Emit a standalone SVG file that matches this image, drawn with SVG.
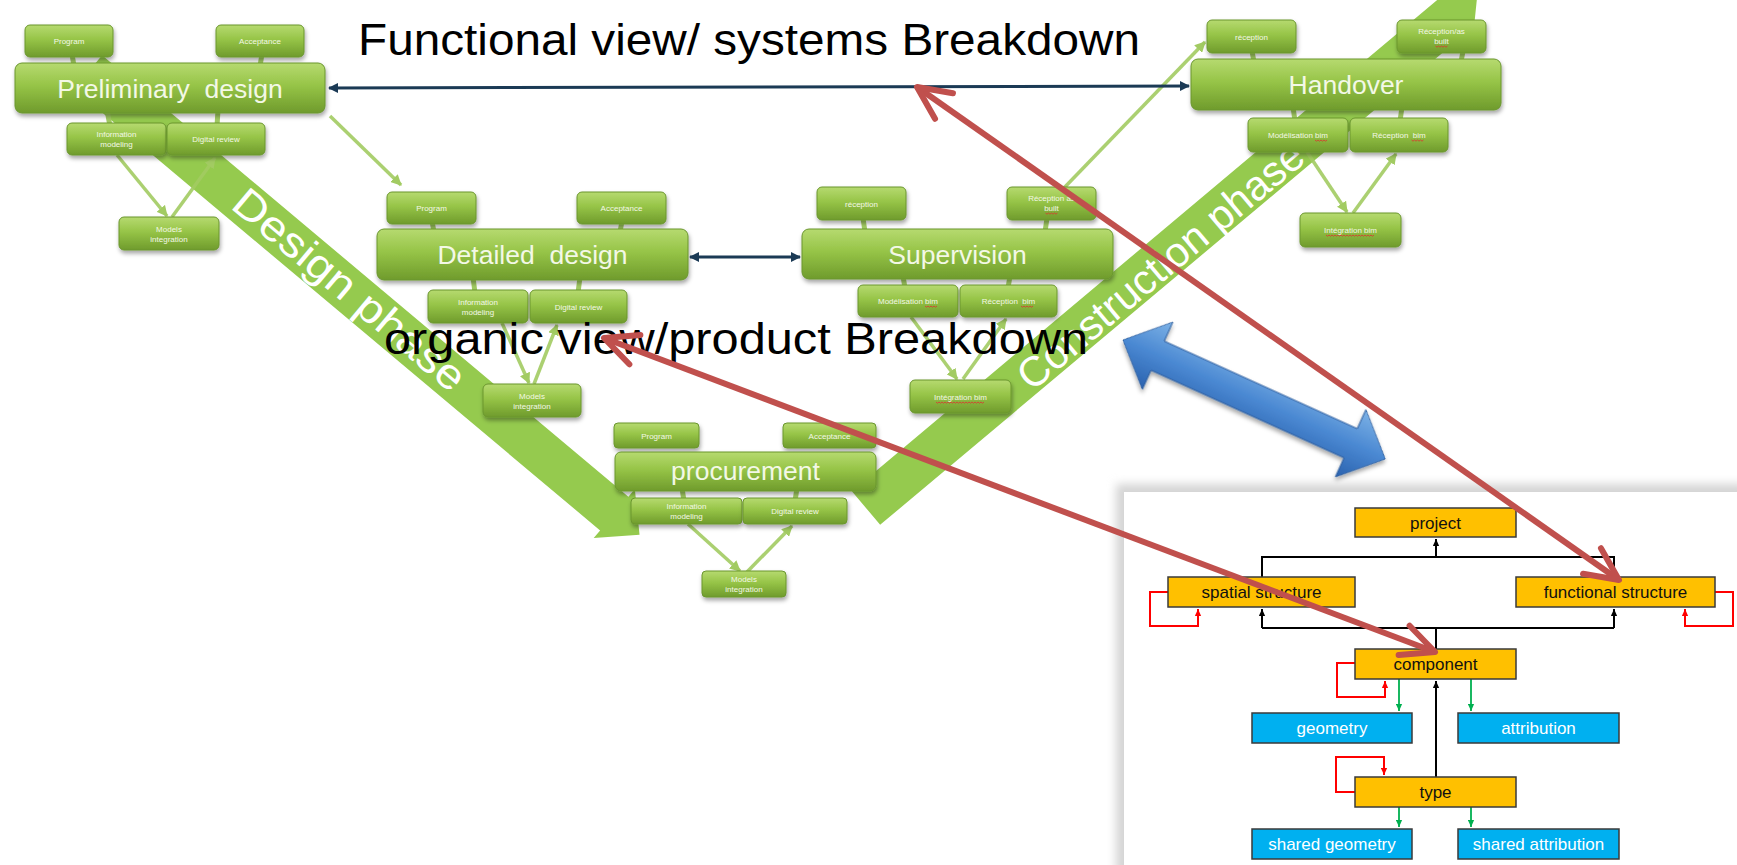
<svg xmlns="http://www.w3.org/2000/svg" width="1737" height="865" viewBox="0 0 1737 865">
<defs>
<style>
.gb{fill:url(#gGreen);stroke:#6a962f;stroke-width:1;filter:url(#sh)}
.gl{font-family:"Liberation Sans",Arial,sans-serif;fill:#F3F8E6;text-anchor:middle}
.lg{font-size:26.5px}
.sm{font-size:8px}
.thin{stroke:#A2CB62;stroke-width:3.5;fill:none;stroke-opacity:0.9}
.stub{stroke:#A2CB62;stroke-width:5;fill:none}
.band{fill:#8CC63F;fill-opacity:0.92}
.bandt{font-family:"Liberation Sans",Arial,sans-serif;fill:#FFFFFF;font-size:42px;text-anchor:middle}
.bigt{font-family:"Liberation Sans",Arial,sans-serif;fill:#000;font-size:44px}
.navy{stroke:#1B3A55;stroke-width:3;fill:none}
.ob{fill:#FFC000;stroke:#3a3a3a;stroke-width:1.5}
.bb{fill:#00B0F0;stroke:#3a3a3a;stroke-width:1.5}
.pt{font-family:"Liberation Sans",Arial,sans-serif;font-size:17px;text-anchor:middle;fill:#111}
.ptw{font-family:"Liberation Sans",Arial,sans-serif;font-size:17px;text-anchor:middle;fill:#fff}
.blk{stroke:#000;stroke-width:2;fill:none}
.grn{stroke:#00B050;stroke-width:1.8;fill:none}
.red{stroke:#FF0000;stroke-width:2;fill:none}
.bigred{stroke:#C0504D;stroke-width:6;fill:none}
.wv{stroke:#E03030;stroke-width:0.8;fill:none}
</style>
<linearGradient id="gGreen" x1="0" y1="0" x2="0" y2="1">
<stop offset="0" stop-color="#B6DA70"/>
<stop offset="0.45" stop-color="#96C447"/>
<stop offset="1" stop-color="#6F9B2C"/>
</linearGradient>
<linearGradient id="gBlue" gradientUnits="userSpaceOnUse" x1="0" y1="-37" x2="0" y2="37">
<stop offset="0" stop-color="#7DB2E6"/>
<stop offset="0.5" stop-color="#4A88D2"/>
<stop offset="1" stop-color="#2A62AE"/>
</linearGradient>
<filter id="sh" x="-10%" y="-20%" width="120%" height="160%">
<feDropShadow dx="1" dy="3" stdDeviation="2" flood-color="#000" flood-opacity="0.35"/>
</filter>
<filter id="blur" x="-5%" y="-5%" width="110%" height="110%">
<feGaussianBlur stdDeviation="5"/>
</filter>
<marker id="mNavy" viewBox="0 0 10 10" refX="9" refY="5" markerWidth="12" markerHeight="10" markerUnits="userSpaceOnUse" orient="auto-start-reverse">
<path d="M0,0 L10,5 L0,10 z" fill="#1B3A55"/>
</marker>
<marker id="mGreen" viewBox="0 0 10 10" refX="9" refY="5" markerWidth="11" markerHeight="11" markerUnits="userSpaceOnUse" orient="auto">
<path d="M0,0 L10,5 L0,10 z" fill="#A2CB62"/>
</marker>
<marker id="mBlk" viewBox="0 0 10 10" refX="10" refY="5" markerWidth="7" markerHeight="7" markerUnits="userSpaceOnUse" orient="auto">
<path d="M0,0.5 L10,5 L0,9.5 z" fill="#000"/>
</marker>
<marker id="mGrn" viewBox="0 0 10 10" refX="10" refY="5" markerWidth="7" markerHeight="7" markerUnits="userSpaceOnUse" orient="auto">
<path d="M0,0.5 L10,5 L0,9.5 z" fill="#00B050"/>
</marker>
<marker id="mRd" viewBox="0 0 10 10" refX="10" refY="5" markerWidth="7" markerHeight="7" markerUnits="userSpaceOnUse" orient="auto">
<path d="M0,0.5 L10,5 L0,9.5 z" fill="#FF0000"/>
</marker>
<marker id="mRed" viewBox="-7 -4 8 8" refX="0" refY="0" markerWidth="8" markerHeight="8" markerUnits="strokeWidth" orient="auto-start-reverse">
<path d="M-5.5,-2.6 L0,0 L-5.5,2.6" fill="none" stroke="#C0504D" stroke-width="1" stroke-linejoin="round" stroke-linecap="round"/>
</marker>
<path id="wv12" d="M0,0 l1.5,1.2 l1.5,-1.2 l1.5,1.2 l1.5,-1.2 l1.5,1.2 l1.5,-1.2 l1.5,1.2 l1.5,-1.2"/>
<path id="wv48" d="M0,0 l1.5,1.2 l1.5,-1.2 l1.5,1.2 l1.5,-1.2 l1.5,1.2 l1.5,-1.2 l1.5,1.2 l1.5,-1.2 l1.5,1.2 l1.5,-1.2 l1.5,1.2 l1.5,-1.2 l1.5,1.2 l1.5,-1.2 l1.5,1.2 l1.5,-1.2 l1.5,1.2 l1.5,-1.2 l1.5,1.2 l1.5,-1.2 l1.5,1.2 l1.5,-1.2 l1.5,1.2 l1.5,-1.2 l1.5,1.2 l1.5,-1.2 l1.5,1.2 l1.5,-1.2 l1.5,1.2 l1.5,-1.2 l1.5,1.2 l1.5,-1.2"/>
</defs>

<rect x="0" y="0" width="1737" height="865" fill="#FFFFFF"/>

<!-- phase bands -->
<g id="design-phase">
<polygon class="band" transform="translate(88,72) rotate(40)" points="0,-22 687,-22 687,-32 720,0 687,32 687,22 0,22"/>
<text class="bandt" transform="translate(350,289) rotate(40)" y="15" textLength="290" lengthAdjust="spacingAndGlyphs">Design phase</text>
</g>
<g id="construction-phase">
<polygon class="band" transform="translate(866,508) rotate(-40)" points="0,-22 765,-22 765,-32 798,0 765,32 765,22 0,22"/>
<text class="bandt" transform="translate(1160,265) rotate(-40)" y="15" textLength="360" lengthAdjust="spacingAndGlyphs">Construction phase</text>
</g>

<!-- right panel background -->
<g id="panel">
<rect x="1116" y="484" width="630" height="390" fill="#d4d4d4" filter="url(#blur)"/>
<rect x="1124" y="492" width="613" height="373" fill="#FFFFFF"/>
</g>

<!-- green connectors -->
<g id="connectors-green">
<line class="stub" x1="72" y1="54" x2="74" y2="66"/>
<line class="stub" x1="262" y1="54" x2="260" y2="66"/>
<line class="stub" x1="107" y1="110" x2="110" y2="126"/>
<line class="stub" x1="218" y1="110" x2="217" y2="126"/>
<line class="thin" x1="117" y1="155" x2="167" y2="216" marker-end="url(#mGreen)"/>
<line class="thin" x1="172" y1="217" x2="215" y2="158" marker-end="url(#mGreen)"/>
<line class="thin" x1="330" y1="116" x2="401" y2="185" marker-end="url(#mGreen)"/>

<line class="stub" x1="432" y1="221" x2="434" y2="232"/>
<line class="stub" x1="622" y1="221" x2="620" y2="232"/>
<line class="stub" x1="473" y1="277" x2="475" y2="293"/>
<line class="stub" x1="580" y1="277" x2="578" y2="293"/>
<line class="thin" x1="502" y1="323" x2="529" y2="383" marker-end="url(#mGreen)"/>
<line class="thin" x1="534" y1="384" x2="557" y2="325" marker-end="url(#mGreen)"/>

<line class="stub" x1="682" y1="488" x2="684" y2="501"/>
<line class="stub" x1="797" y1="488" x2="795" y2="501"/>
<line class="thin" x1="688" y1="524" x2="740" y2="571" marker-end="url(#mGreen)"/>
<line class="thin" x1="747" y1="572" x2="792" y2="526" marker-end="url(#mGreen)"/>

<line class="stub" x1="863" y1="218" x2="865" y2="232"/>
<line class="stub" x1="1047" y1="218" x2="1045" y2="232"/>
<line class="stub" x1="903" y1="276" x2="905" y2="288"/>
<line class="stub" x1="1010" y1="276" x2="1008" y2="288"/>
<line class="thin" x1="911" y1="317" x2="957" y2="379" marker-end="url(#mGreen)"/>
<line class="thin" x1="963" y1="379" x2="1006" y2="319" marker-end="url(#mGreen)"/>
<line class="thin" x1="1062" y1="190" x2="1205" y2="42" marker-end="url(#mGreen)"/>

<line class="stub" x1="1252" y1="51" x2="1254" y2="62"/>
<line class="stub" x1="1463" y1="51" x2="1461" y2="62"/>
<line class="stub" x1="1293" y1="107" x2="1295" y2="121"/>
<line class="stub" x1="1402" y1="107" x2="1400" y2="121"/>
<line class="thin" x1="1307" y1="152" x2="1347" y2="212" marker-end="url(#mGreen)"/>
<line class="thin" x1="1353" y1="213" x2="1396" y2="154" marker-end="url(#mGreen)"/>
</g>

<!-- Preliminary design group -->
<g id="prelim-program"><rect class="gb" x="25" y="25" width="88" height="32" rx="5"/><text class="gl sm" x="69" y="44">Program</text></g>
<g id="prelim-acceptance"><rect class="gb" x="216" y="25" width="88" height="32" rx="5"/><text class="gl sm" x="260" y="44">Acceptance</text></g>
<g id="prelim-design"><rect class="gb" x="15" y="63" width="310" height="50" rx="7"/><text class="gl lg" x="170" y="97.5">Preliminary&#160; design</text></g>
<g id="prelim-info"><rect class="gb" x="67" y="123" width="99" height="32" rx="5"/><text class="gl sm" x="116.5" y="137">Information</text><text class="gl sm" x="116.5" y="147">modeling</text></g>
<g id="prelim-review"><rect class="gb" x="167" y="123" width="98" height="32" rx="5"/><text class="gl sm" x="216" y="142">Digital review</text></g>
<g id="prelim-models"><rect class="gb" x="119" y="217" width="100" height="33" rx="5"/><text class="gl sm" x="169" y="231.5">Models</text><text class="gl sm" x="169" y="241.5">integration</text></g>

<!-- Detailed design group -->
<g id="detailed-program"><rect class="gb" x="387" y="192" width="89" height="32" rx="5"/><text class="gl sm" x="431.5" y="211">Program</text></g>
<g id="detailed-acceptance"><rect class="gb" x="577" y="192" width="89" height="32" rx="5"/><text class="gl sm" x="621.5" y="211">Acceptance</text></g>
<g id="detailed-design"><rect class="gb" x="377" y="229" width="311" height="51" rx="7"/><text class="gl lg" x="532.5" y="264">Detailed&#160; design</text></g>
<g id="detailed-info"><rect class="gb" x="428" y="290" width="100" height="33" rx="5"/><text class="gl sm" x="478" y="304.5">Information</text><text class="gl sm" x="478" y="314.5">modeling</text></g>
<g id="detailed-review"><rect class="gb" x="530" y="290" width="97" height="33" rx="5"/><text class="gl sm" x="578.5" y="309.5">Digital review</text></g>
<g id="detailed-models"><rect class="gb" x="483" y="384" width="98" height="33" rx="5"/><text class="gl sm" x="532" y="398.5">Models</text><text class="gl sm" x="532" y="408.5">integration</text></g>

<!-- Procurement group -->
<g id="proc-program"><rect class="gb" x="614" y="423" width="85" height="25" rx="4"/><text class="gl sm" x="656.5" y="438.5">Program</text></g>
<g id="proc-acceptance"><rect class="gb" x="783" y="423" width="93" height="25" rx="4"/><text class="gl sm" x="829.5" y="438.5">Acceptance</text></g>
<g id="procurement"><rect class="gb" x="615" y="452" width="261" height="39" rx="6"/><text class="gl lg" x="745.5" y="480">procurement</text></g>
<g id="proc-info"><rect class="gb" x="631" y="498" width="111" height="26" rx="4"/><text class="gl sm" x="686.5" y="508.5">Information</text><text class="gl sm" x="686.5" y="518.5">modeling</text></g>
<g id="proc-review"><rect class="gb" x="743" y="498" width="104" height="26" rx="4"/><text class="gl sm" x="795" y="514">Digital review</text></g>
<g id="proc-models"><rect class="gb" x="702" y="571" width="84" height="26" rx="4"/><text class="gl sm" x="744" y="581.5">Models</text><text class="gl sm" x="744" y="591.5">integration</text></g>

<!-- Supervision group -->
<g id="sup-reception"><rect class="gb" x="817" y="187" width="89" height="33" rx="5"/><text class="gl sm" x="861.5" y="206.5">réception</text></g>
<g id="sup-asbuilt"><rect class="gb" x="1007" y="187" width="89" height="33" rx="5"/><text class="gl sm" x="1051.5" y="201">Réception as</text><text class="gl sm" x="1051.5" y="211">built</text><use href="#wv12" class="wv" x="1045.5" y="213"/></g>
<g id="supervision"><rect class="gb" x="802" y="229" width="311" height="50" rx="7"/><text class="gl lg" x="957.5" y="263.5">Supervision</text></g>
<g id="sup-model"><rect class="gb" x="858" y="285" width="100" height="32" rx="5"/><text class="gl sm" x="908" y="304">Modélisation bim</text><use href="#wv12" class="wv" x="925" y="306"/></g>
<g id="sup-recbim"><rect class="gb" x="960" y="285" width="97" height="32" rx="5"/><text class="gl sm" x="1008.5" y="304">Réception&#160; bim</text><use href="#wv12" class="wv" x="1021" y="306"/></g>
<g id="sup-integ"><rect class="gb" x="910" y="380" width="101" height="33" rx="5"/><text class="gl sm" x="960.5" y="399.5">Intégration bim</text><use href="#wv48" class="wv" x="936" y="402"/></g>

<!-- Handover group -->
<g id="hand-reception"><rect class="gb" x="1207" y="20" width="89" height="33" rx="5"/><text class="gl sm" x="1251.5" y="39.5">réception</text></g>
<g id="hand-asbuilt"><rect class="gb" x="1397" y="20" width="89" height="33" rx="5"/><text class="gl sm" x="1441.5" y="34">Réception/as</text><text class="gl sm" x="1441.5" y="44">built</text><use href="#wv12" class="wv" x="1435.5" y="46"/></g>
<g id="handover"><rect class="gb" x="1191" y="59" width="310" height="51" rx="7"/><text class="gl lg" x="1346" y="94">Handover</text></g>
<g id="hand-model"><rect class="gb" x="1248" y="118" width="100" height="34" rx="5"/><text class="gl sm" x="1298" y="138">Modélisation bim</text><use href="#wv12" class="wv" x="1315" y="140"/></g>
<g id="hand-recbim"><rect class="gb" x="1350" y="118" width="98" height="34" rx="5"/><text class="gl sm" x="1399" y="138">Réception&#160; bim</text><use href="#wv12" class="wv" x="1411.5" y="140"/></g>
<g id="hand-integ"><rect class="gb" x="1300" y="213" width="101" height="34" rx="5"/><text class="gl sm" x="1350.5" y="233">Intégration bim</text><use href="#wv48" class="wv" x="1326" y="235"/></g>

<!-- navy double arrows -->
<g id="connectors-navy">
<line class="navy" x1="329" y1="88" x2="1189" y2="86" marker-start="url(#mNavy)" marker-end="url(#mNavy)"/>
<line class="navy" x1="690" y1="257" x2="800" y2="257" marker-start="url(#mNavy)" marker-end="url(#mNavy)"/>
</g>

<!-- big titles -->
<text id="title-functional" class="bigt" x="358" y="55" textLength="782" lengthAdjust="spacingAndGlyphs">Functional view/ systems Breakdown</text>
<text id="title-organic" class="bigt" x="384" y="354" textLength="704" lengthAdjust="spacingAndGlyphs">organic view/product Breakdown</text>

<!-- right panel connectors -->
<g id="connectors-panel">
<path class="blk" d="M1436,557 V539" marker-end="url(#mBlk)"/>
<path class="blk" d="M1262,577 V557 H1614 V577"/>
<path class="blk" d="M1436,649 V628"/>
<path class="blk" d="M1262,628 H1614"/>
<path class="blk" d="M1262,628 V609" marker-end="url(#mBlk)"/>
<path class="blk" d="M1614,628 V609" marker-end="url(#mBlk)"/>
<path class="blk" d="M1436,777 V681" marker-end="url(#mBlk)"/>
<path class="grn" d="M1399,679 V711" marker-end="url(#mGrn)"/>
<path class="grn" d="M1471,679 V711" marker-end="url(#mGrn)"/>
<path class="grn" d="M1399,807 V827" marker-end="url(#mGrn)"/>
<path class="grn" d="M1471,807 V827" marker-end="url(#mGrn)"/>
<path class="red" d="M1168,592 H1150 V626 H1198 V609" marker-end="url(#mRd)"/>
<path class="red" d="M1715,592 H1733 V626 H1685 V609" marker-end="url(#mRd)"/>
<path class="red" d="M1355,663 H1337 V697 H1385 V681" marker-end="url(#mRd)"/>
<path class="red" d="M1355,792 H1336 V757 H1384 V775" marker-end="url(#mRd)"/>
</g>

<!-- right panel nodes -->
<g id="node-project"><rect class="ob" x="1355" y="508" width="161" height="29"/><text class="pt" x="1435.5" y="528.5">project</text></g>
<g id="node-spatial"><rect class="ob" x="1168" y="577" width="187" height="30"/><text class="pt" x="1261.5" y="598">spatial structure</text></g>
<g id="node-functional"><rect class="ob" x="1516" y="577" width="199" height="30"/><text class="pt" x="1615.5" y="598">functional structure</text></g>
<g id="node-component"><rect class="ob" x="1355" y="649" width="161" height="30"/><text class="pt" x="1435.5" y="670">component</text></g>
<g id="node-geometry"><rect class="bb" x="1252" y="713" width="160" height="30"/><text class="ptw" x="1332" y="734">geometry</text></g>
<g id="node-attribution"><rect class="bb" x="1458" y="713" width="161" height="30"/><text class="ptw" x="1538.5" y="734">attribution</text></g>
<g id="node-type"><rect class="ob" x="1355" y="777" width="161" height="30"/><text class="pt" x="1435.5" y="798">type</text></g>
<g id="node-sharedgeom"><rect class="bb" x="1252" y="829" width="160" height="30"/><text class="ptw" x="1332" y="850">shared geometry</text></g>
<g id="node-sharedattr"><rect class="bb" x="1458" y="829" width="161" height="30"/><text class="ptw" x="1538.5" y="850">shared attribution</text></g>

<!-- blue double arrow -->
<g id="blue-arrow" transform="translate(1123,340) rotate(24.4)">
<polygon points="0,0 38,-37 38,-16 250,-16 250,-37 288,0 250,37 250,16 38,16 38,37" fill="url(#gBlue)" stroke="#2F5F9E" stroke-width="1" filter="url(#sh)"/>
</g>

<!-- red relation arrows -->
<g id="connectors-red">
<line class="bigred" x1="917" y1="87" x2="1619" y2="580" marker-start="url(#mRed)" marker-end="url(#mRed)"/>
<line class="bigred" x1="604" y1="338" x2="1435" y2="652" marker-start="url(#mRed)" marker-end="url(#mRed)"/>
</g>
</svg>
